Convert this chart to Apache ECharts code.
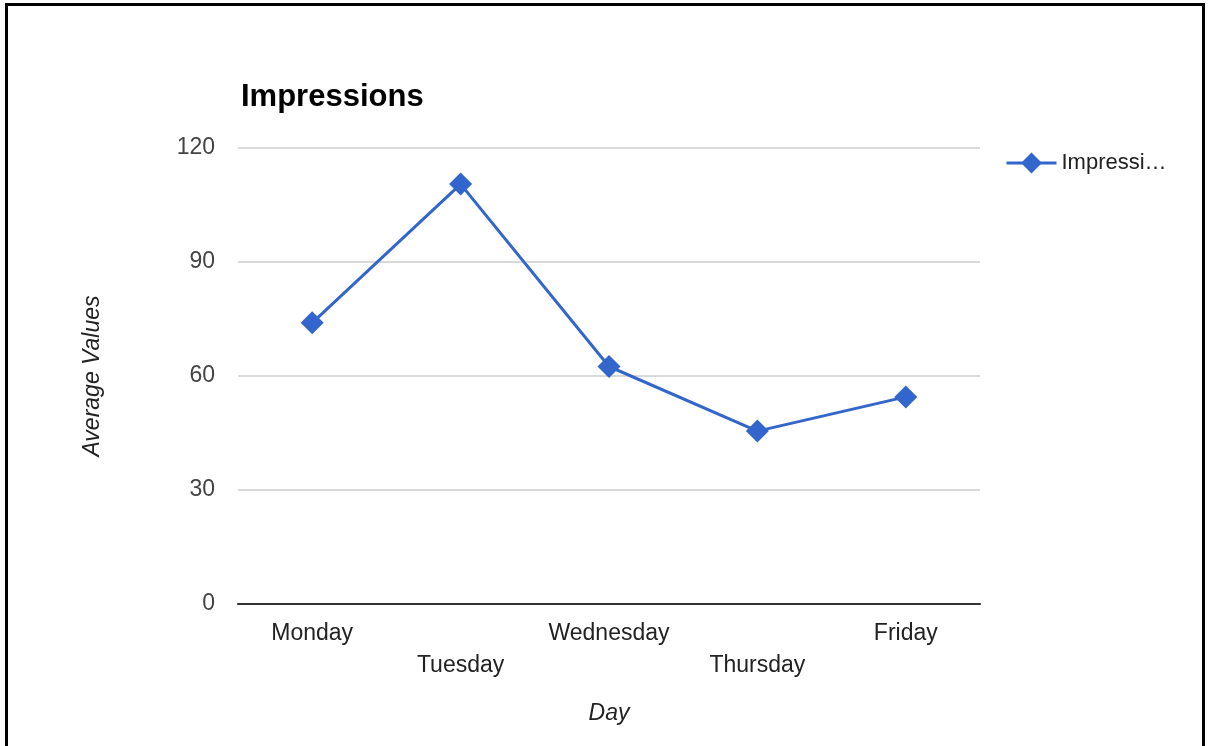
<!DOCTYPE html>
<html>
<head>
<meta charset="utf-8">
<script src="https://cdn.jsdelivr.net/npm/echarts@6/dist/echarts.min.js"></script>
<style>
html,body{margin:0;padding:0;background:#fff;}
#frame{position:absolute;left:5px;top:3px;width:1200px;height:760px;border:3px solid #000;box-sizing:border-box;}
#chart{position:absolute;left:0;top:0;width:1208px;height:746px;}
</style>
</head>
<body>
<div id="frame"></div>
<div id="chart"></div>
<script>
const categories = ['Monday', 'Tuesday', 'Wednesday', 'Thursday', 'Friday'];
const impressions = [74, 110.5, 62.5, 45.5, 54.5];
const yTicks = { min: 0, max: 120, interval: 30 };

const chart = echarts.init(document.getElementById('chart'), null, { renderer: 'canvas' });
const font = '"Liberation Sans", Arial, sans-serif';
chart.setOption({
  animation: false,
  backgroundColor: 'transparent',
  title: {
    text: 'Impressions',
    left: 236, top: 77,
    textStyle: { fontFamily: font, fontSize: 31, fontWeight: 'bold', color: '#000' }
  },
  legend: {
    left: 1000, top: 147,
    itemWidth: 50, itemHeight: 26, itemGap: 10,
    lineStyle: { width: 3 },
    textStyle: { fontFamily: font, fontSize: 22, color: '#222', width: 116, overflow: 'truncate', ellipsis: '…' },
    data: ['Impressions']
  },
  grid: { left: 238, right: 228, top: 148, bottom: 142, containLabel: false },
  xAxis: {
    type: 'category',
    data: categories,
    boundaryGap: true,
    name: 'Day',
    nameLocation: 'middle',
    nameGap: 98,
    nameTextStyle: { fontFamily: font, fontSize: 23, fontStyle: 'italic', color: '#222' },
    axisLine: { show: true, lineStyle: { color: '#333', width: 2 } },
    axisTick: { show: false },
    axisLabel: {
      interval: 0,
      margin: 14,
      fontFamily: font, fontSize: 23, color: '#222',
      lineHeight: 32,
      formatter: (v, i) => (i % 2 === 1 ? '\n' + v : v)
    }
  },
  yAxis: {
    type: 'value',
    min: yTicks.min, max: yTicks.max, interval: yTicks.interval,
    name: 'Average Values',
    nameLocation: 'middle',
    nameGap: 134,
    nameRotate: 90,
    nameTextStyle: { fontFamily: font, fontSize: 23, fontStyle: 'italic', color: '#222' },
    axisLine: { show: false },
    axisTick: { show: false },
    axisLabel: { margin: 23, fontFamily: font, fontSize: 23, color: '#444' },
    splitLine: { lineStyle: { color: '#ccc', width: 1.5 } }
  },
  series: [{
    name: 'Impressions',
    type: 'line',
    data: impressions,
    symbol: 'diamond',
    symbolSize: 23,
    lineStyle: { color: '#3366cc', width: 3 },
    itemStyle: { color: '#3366cc' }
  }]
});
</script>
</body>
</html>
